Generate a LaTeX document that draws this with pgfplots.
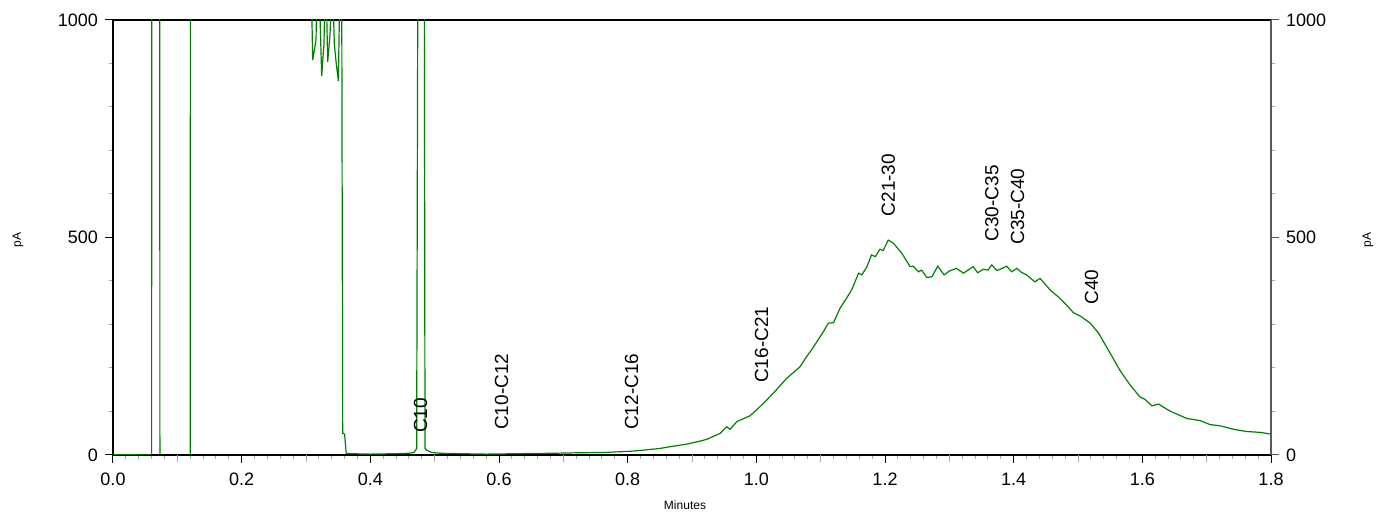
\documentclass[border=0pt]{standalone}
\usepackage{fontspec}
\setmainfont{Liberation Sans}
\usepackage{pgfplots}
\pgfplotsset{compat=1.18}
\definecolor{trace}{RGB}{0,128,0}
\definecolor{axgray}{RGB}{90,90,90}
\pgfplotstableread{
x y
0.000 0.5
0.030 0.5
0.0600 0
0.0610 5000
0.0720 5000
0.0730 -500
0.1200 -500
0.1210 5000
0.3060 5000
0.3080 1100
0.3104 908
0.3156 954
0.3170 1100
0.3200 1100
0.3244 871
0.3280 947
0.3300 1100
0.3310 1100
0.3337 904
0.3373 966
0.3410 1100
0.3440 946
0.3467 904
0.3503 860
0.3529 1100
0.3555 1100
0.3570 50
0.3600 48
0.3625 4
0.370 3
0.400 2
0.440 3
0.460 4
0.468 6
0.472 15
0.4745 1500
0.4835 1500
0.4850 15
0.4876 11
0.495 6
0.508 4
0.540 3
0.580 2
0.630 3
0.684 4
0.720 5
0.767 6
0.809 9
0.830 12
0.850 15
0.870 20
0.892 25
0.910 31
0.923 36
0.944 50
0.954 65
0.959 59
0.970 77
0.990 90
1.000 103
1.016 126
1.030 148
1.047 176
1.058 190
1.068 203
1.078 226
1.086 242
1.094 260
1.104 283
1.112 303
1.120 304
1.130 337
1.140 360
1.148 379
1.159 418
1.164 414
1.172 433
1.179 460
1.185 456
1.192 473
1.197 470
1.205 494
1.213 487
1.226 464
1.239 433
1.244 434
1.252 421
1.257 425
1.265 408
1.273 410
1.282 434
1.292 414
1.300 423
1.311 429
1.322 418
1.337 433
1.344 419
1.353 427
1.360 425
1.366 437
1.374 424
1.379 427
1.389 434
1.397 421
1.405 429
1.412 420
1.420 414
1.433 398
1.441 406
1.457 379
1.472 360
1.482 345
1.493 327
1.505 318
1.519 303
1.532 280
1.550 234
1.565 195
1.581 161
1.596 134
1.604 128
1.615 113
1.625 117
1.643 101
1.669 84
1.690 79
1.705 70
1.721 67
1.742 59
1.762 54
1.783 52
1.800 48
}\chrom
\begin{document}
\begin{tikzpicture}
\useasboundingbox (-56.5pt,-29pt) rectangle (632pt,227.5pt);
\begin{axis}[
  at={(0pt,0pt)}, anchor=south west, scale only axis,
  width=579pt, height=217.5pt,
  xmin=0, xmax=1.8, ymin=0, ymax=1000,
  xtick={0,0.2,0.4,0.6,0.8,1.0,1.2,1.4,1.6,1.8},
  xticklabels={0.0,0.2,0.4,0.6,0.8,1.0,1.2,1.4,1.6,1.8},
  extra x ticks={0.1,0.3,0.5,0.7,0.9,1.1,1.3,1.5,1.7},
  extra x tick labels={},
  extra x tick style={major tick length=3.5pt, tick style={gray!70, line width=0.5pt}},
  ytick={0,500,1000},
  yticklabels={0,500,1000},
  minor x tick num=9,
  minor y tick num=4,
  tick align=outside,
  xtick pos=left, ytick pos=left,
  major tick length=4pt, minor tick length=2pt,
  every tick/.style={black, line width=0.5pt},
  minor tick style={gray!70, line width=0.5pt},
  axis line style={line width=0.6pt},
  tick label style={font=\fontsize{9}{10}\selectfont},
  xticklabel style={yshift=-1.5pt},
  /pgf/number format/assume math mode=true,
  /pgf/number format/1000 sep={},
  clip=true,
]
\addplot[trace, line width=0.6pt] table[x=x,y=y] {\chrom};
\begin{scope}[every node/.style={rotate=90, anchor=west, inner sep=0pt, font=\fontsize{9.5}{11}\selectfont}]
\node at (axis cs:0.478,50) {C10};
\node at (axis cs:0.604,57) {C10-C12};
\node at (axis cs:0.806,57) {C12-C16};
\node at (axis cs:1.008,165) {C16-C21};
\node at (axis cs:1.205,548) {C21-30};
\node at (axis cs:1.366,490) {C30-C35};
\node at (axis cs:1.406,483) {C35-C40};
\node at (axis cs:1.521,345) {C40};
\end{scope}
\end{axis}
\begin{axis}[
  at={(0pt,0pt)}, anchor=south west, scale only axis,
  width=579pt, height=217.5pt,
  xmin=0, xmax=1.8, ymin=0, ymax=1000,
  axis x line=none, axis y line*=right,
  ytick={0,500,1000},
  yticklabels={0,500,1000},
  minor y tick num=4,
  tick align=outside,
  major tick length=4pt, minor tick length=2pt,
  every tick/.style={axgray, line width=0.5pt},
  minor tick style={gray!70, line width=0.5pt},
  axis line style={axgray, line width=0.6pt, -},
  tick label style={font=\fontsize{9}{10}\selectfont},
  /pgf/number format/assume math mode=true,
  /pgf/number format/1000 sep={},
]
\end{axis}
\node[font=\fontsize{6}{7}\selectfont] at (286pt,-25pt) {Minutes};
\node[rotate=90, font=\fontsize{6}{7}\selectfont] at (-47.5pt,107.5pt) {pA};
\node[rotate=90, font=\fontsize{6}{7}\selectfont] at (627.5pt,107.5pt) {pA};
\end{tikzpicture}
\end{document}
